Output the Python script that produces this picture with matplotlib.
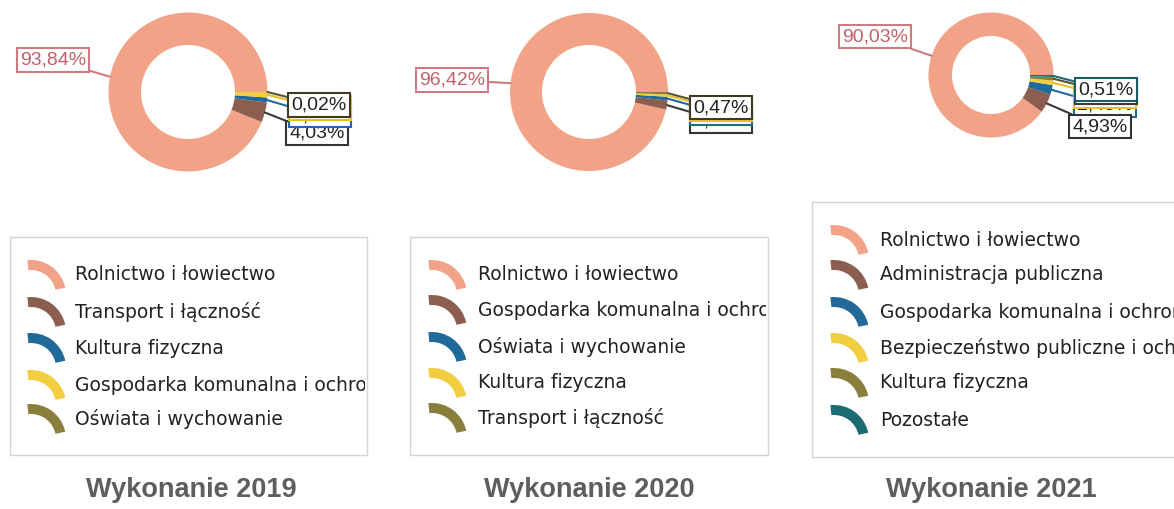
import matplotlib
matplotlib.use("Agg")
import matplotlib.pyplot as plt
import numpy as np
from matplotlib.patches import Rectangle, Wedge
from matplotlib.transforms import Bbox, TransformedBbox

W, H = 1174, 509

# struktura wydatków wg działów (%)
cats_2019 = ['Rolnictwo i łowiectwo', 'Transport i łączność', 'Kultura fizyczna',
             'Gospodarka komunalna i ochrona środowiska', 'Oświata i wychowanie']
vals_2019 = [93.84, 4.03, 1.02, 1.09, 0.02]

cats_2020 = ['Rolnictwo i łowiectwo', 'Gospodarka komunalna i ochrona środowiska',
             'Oświata i wychowanie', 'Kultura fizyczna', 'Transport i łączność']
vals_2020 = [96.42, 1.86, 0.75, 0.50, 0.47]

cats_2021 = ['Rolnictwo i łowiectwo', 'Administracja publiczna',
             'Gospodarka komunalna i ochrona środowiska',
             'Bezpieczeństwo publiczne i ochrona przeciwpożarowa',
             'Kultura fizyczna', 'Pozostałe']
vals_2021 = [90.03, 4.93, 2.45, 1.18, 0.90, 0.51]

years = ['2019', '2020', '2021']

palette = ['#f2a387', '#8c5e50', '#1f6a98', '#f2cd3f', '#8a7e3c', '#1b6c72']
box_edge = ['#cf7a82', '#333333', '#1f6a98', '#e8c02a', '#3f3a28', '#1b5c62']
line_col = ['#cf7a82', '#3a3a3a', '#1f6a98', '#e8c02a', '#5a5330', '#1b6c72']
txt_col = ['#c0606a'] + ['#222222'] * 5

# rozmieszczenie (piksele, y od góry)
layout = [
    dict(center=(188, 92), r=79.5, r_in=47,
         labels=[(53, 60), (317, 133), (320, 115.5), (320, 108), (319, 105)],
         order=[0, 1, 2, 3, 4],
         legend=(10, 237, 367, 455), rows=[275, 312, 348, 385, 419],
         mark_x=31, text_x=75, title_x=191),
    dict(center=(589, 92), r=79, r_in=47,
         labels=[(452, 80), (721, 121), (721, 113.5), (721, 109.5), (721, 107.5)],
         order=[0, 1, 2, 3, 4],
         legend=(410, 237, 768, 455), rows=[275, 310, 347, 383, 418],
         mark_x=432, text_x=478, title_x=589),
    dict(center=(991, 75), r=62.5, r_in=39,
         labels=[(875, 36.5), (1100, 126.5), (1105, 105), (1105, 96), (1106, 92), (1106, 89.5)],
         order=[0, 5, 1, 2, 3, 4],
         legend=(812, 202, 1180, 457), rows=[240, 275, 312, 348, 383, 420],
         mark_x=834, text_x=880, title_x=991),
]
cats_all = [cats_2019, cats_2020, cats_2021]
vals_all = [vals_2019, vals_2020, vals_2021]


def Y(y):
    return H - y


def fmt(v):
    return f"{v:.2f}".replace('.', ',') + '%'


fig = plt.figure(figsize=(W / 100, H / 100), dpi=100)
ax = fig.add_axes([0, 0, 1, 1])

for p, cats, vals, year in zip(layout, cats_all, vals_all, years):
    cx, cy = p['center']
    n = len(vals)
    ax.pie(vals, colors=palette[:n], radius=p['r'], center=(cx, Y(cy)),
           startangle=0, counterclock=True,
           wedgeprops=dict(width=p['r'] - p['r_in'], linewidth=0))

    # etykiety procentowe z liniami odniesienia
    total = sum(vals)
    cum = 0
    for i, v in enumerate(vals):
        ang = np.deg2rad(360 * (cum + v / 2) / total)
        cum += v
        px = cx + p['r'] * np.cos(ang)
        py = Y(cy) + p['r'] * np.sin(ang)
        lx, ly = p['labels'][i]
        ax.annotate(fmt(v), xy=(px, py), xytext=(lx, Y(ly)),
                    ha='center', va='center', fontsize=14,
                    family='Liberation Sans', color=txt_col[i],
                    bbox=dict(boxstyle='square,pad=0.16', fc='white',
                              ec=box_edge[i], lw=1.5),
                    arrowprops=dict(arrowstyle='-', color=line_col[i], lw=1.5,
                                    shrinkA=0, shrinkB=0),
                    zorder=5 + p['order'][i])

    # legenda
    x0, y0, x1, y1 = p['legend']
    ax.add_patch(Rectangle((x0, Y(y1)), x1 - x0, y1 - y0, fill=False,
                           ec='#d4d4d4', lw=1))
    clip = TransformedBbox(Bbox([[x0, Y(y1)], [x1 - 2, Y(y0)]]), ax.transData)
    for i, cat in enumerate(cats):
        ry = p['rows'][i]
        ax.add_patch(Wedge((p['mark_x'], Y(ry) - 20), 35, 12, 96, width=10,
                           color=palette[i], lw=0))
        t = ax.text(p['text_x'], Y(ry), cat, fontsize=13.5, va='center',
                    ha='left', color='#222222', family='DejaVu Sans')
        t.set_clip_box(clip)
        t.set_clip_on(True)

    ax.text(p['title_x'], Y(490), 'Wykonanie ' + year, fontsize=19.5,
            fontweight='bold', color='#5e5e5e', ha='center', va='center',
            family='Liberation Sans')

ax.set_xlim(0, W)
ax.set_ylim(0, H)
ax.set_aspect('auto')
ax.axis('off')

fig.savefig('out.png', dpi=100)
